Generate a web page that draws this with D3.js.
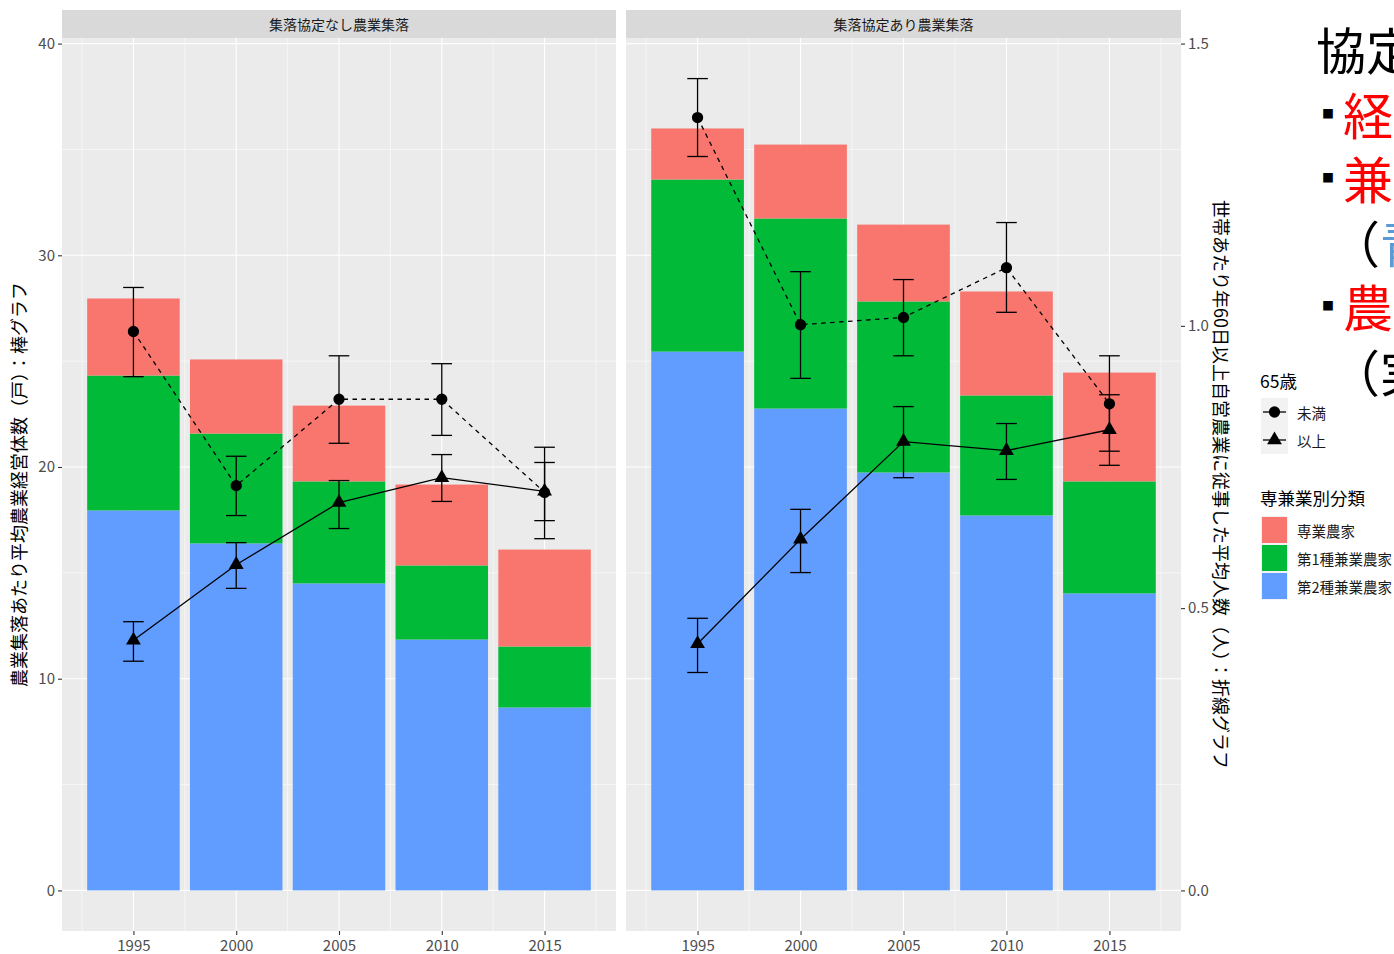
<!DOCTYPE html>
<html><head><meta charset="utf-8">
<script src="https://cdn.jsdelivr.net/npm/d3@7"></script>
<style>
body{margin:0;background:#fff}
svg{display:block}
text{font-family:"Noto Sans CJK JP","Noto Sans",sans-serif}
</style>
</head><body>
<svg id="chart" width="1394" height="954"></svg>
<script>
// ---- data ----
const years = [1995, 2000, 2005, 2010, 2015];
const panels = ["集落協定なし農業集落", "集落協定あり農業集落"];
const farmTypes = ["専業農家", "第1種兼業農家", "第2種兼業農家"];
const typeColors = ["#F8766D", "#00BA38", "#619CFF"];

// households per settlement (bars), one row per panel
const fullTime  = [[3.64, 3.50, 3.58, 3.82, 4.58], [2.41, 3.49, 3.63, 4.91, 5.14]];
const partTime1 = [[6.37, 5.19, 4.82, 3.50, 2.88], [8.13, 8.98, 8.08, 5.67, 5.29]];
const partTime2 = [[17.95, 16.39, 14.50, 11.85, 8.64], [25.45, 22.76, 19.74, 17.71, 14.03]];

// persons per household working 60+ days (lines, secondary axis)
const ageGroups = ["未満", "以上"];
const under65Mean = [[0.990, 0.717, 0.870, 0.870, 0.705], [1.369, 1.002, 1.015, 1.103, 0.862]];
const under65Low  = [[0.910, 0.664, 0.792, 0.806, 0.623], [1.300, 0.907, 0.947, 1.024, 0.778]];
const under65High = [[1.068, 0.769, 0.947, 0.933, 0.785], [1.438, 1.096, 1.082, 1.183, 0.947]];
const over65Mean  = [[0.443, 0.577, 0.687, 0.731, 0.707], [0.437, 0.622, 0.795, 0.779, 0.816]];
const over65Low   = [[0.406, 0.535, 0.641, 0.689, 0.655], [0.386, 0.563, 0.731, 0.728, 0.753]];
const over65High  = [[0.476, 0.616, 0.726, 0.772, 0.758], [0.482, 0.675, 0.857, 0.827, 0.878]];

const yTicks = [0, 10, 20, 30, 40];
const yMinor = [5, 15, 25, 35];
const secTicks = [0, 0.5, 1.0, 1.5];
const secFactor = 40 / 1.5;

// ---- layout ----
const svg = d3.select("#chart");
const panelRanges = [[62, 616], [626, 1181]];
const stripTop = 10, panelTop = 38, panelBottom = 931;
const markStroke = 1.3;

const barWidth = 4.5;
const xLo = years[0] - barWidth / 2, xHi = years[years.length - 1] + barWidth / 2;
const xPad = (xHi - xLo) * 0.05;

const totals = panels.map((p, i) => years.map((yr, j) => fullTime[i][j] + partTime1[i][j] + partTime2[i][j]));
const yMaxData = d3.max([
  ...totals.flat(),
  ...under65High.flat().map(v => v * secFactor),
  ...over65High.flat().map(v => v * secFactor)
]);
const yPad = yMaxData * 0.05;
const y = d3.scaleLinear().domain([-yPad, yMaxData + yPad]).range([panelBottom, panelTop]);
const ySec = d3.scaleLinear().domain(y.domain().map(v => v / secFactor)).range([panelBottom, panelTop]);

const tickColor = "#333333", labelColor = "#4D4D4D";

panels.forEach((name, pi) => {
  const [x0, x1] = panelRanges[pi];
  const x = d3.scaleLinear().domain([xLo - xPad, xHi + xPad]).range([x0, x1]);
  const g = svg.append("g");

  // strip
  g.append("rect").attr("x", x0).attr("y", stripTop).attr("width", x1 - x0).attr("height", panelTop - stripTop).attr("fill", "#D9D9D9");
  g.append("text").attr("x", (x0 + x1) / 2).attr("y", (stripTop + panelTop) / 2)
    .attr("text-anchor", "middle").attr("dominant-baseline", "central")
    .attr("font-size", 14).attr("fill", "#1A1A1A").text(name);

  // panel background + grid
  g.append("rect").attr("x", x0).attr("y", panelTop).attr("width", x1 - x0).attr("height", panelBottom - panelTop).attr("fill", "#EBEBEB");
  const xMinor = years.map(v => v - 2.5).concat([years[years.length - 1] + 2.5]);
  g.selectAll(null).data(yMinor).join("line")
    .attr("x1", x0).attr("x2", x1).attr("y1", d => y(d)).attr("y2", d => y(d))
    .attr("stroke", "#fff").attr("stroke-width", 0.55);
  g.selectAll(null).data(xMinor).join("line")
    .attr("x1", d => x(d)).attr("x2", d => x(d)).attr("y1", panelTop).attr("y2", panelBottom)
    .attr("stroke", "#fff").attr("stroke-width", 0.55);
  g.selectAll(null).data(yTicks).join("line")
    .attr("x1", x0).attr("x2", x1).attr("y1", d => y(d)).attr("y2", d => y(d))
    .attr("stroke", "#fff").attr("stroke-width", 1.1);
  g.selectAll(null).data(years).join("line")
    .attr("x1", d => x(d)).attr("x2", d => x(d)).attr("y1", panelTop).attr("y2", panelBottom)
    .attr("stroke", "#fff").attr("stroke-width", 1.1);

  // stacked bars: 第2種 at bottom, then 第1種, then 専業 on top
  const layers = [partTime2[pi], partTime1[pi], fullTime[pi]];
  const layerColors = [typeColors[2], typeColors[1], typeColors[0]];
  years.forEach((yr, j) => {
    let base = 0;
    layers.forEach((vals, k) => {
      const top = base + vals[j];
      g.append("rect")
        .attr("x", x(yr - barWidth / 2)).attr("width", x(yr + barWidth / 2) - x(yr - barWidth / 2))
        .attr("y", y(top)).attr("height", y(base) - y(top))
        .attr("fill", layerColors[k]);
      base = top;
    });
  });

  // lines, error bars and points
  const series = [
    { mean: under65Mean[pi], lo: under65Low[pi], hi: under65High[pi], dash: "4.5,4.5", shape: d3.symbolCircle, size: 100 },
    { mean: over65Mean[pi], lo: over65Low[pi], hi: over65High[pi], dash: null, shape: d3.symbolTriangle, size: 95 }
  ];
  const line = d3.line().x(d => x(d.yr)).y(d => ySec(d.v));
  series.forEach(s => {
    const pts = years.map((yr, j) => ({ yr, v: s.mean[j], lo: s.lo[j], hi: s.hi[j] }));
    g.append("path").datum(pts).attr("d", line).attr("fill", "none")
      .attr("stroke", "#000").attr("stroke-width", markStroke).attr("stroke-dasharray", s.dash);
    const eb = g.append("g").attr("stroke", "#000").attr("stroke-width", markStroke);
    pts.forEach(p => {
      eb.append("line").attr("x1", x(p.yr)).attr("x2", x(p.yr)).attr("y1", ySec(p.lo)).attr("y2", ySec(p.hi));
      eb.append("line").attr("x1", x(p.yr - 0.5)).attr("x2", x(p.yr + 0.5)).attr("y1", ySec(p.lo)).attr("y2", ySec(p.lo));
      eb.append("line").attr("x1", x(p.yr - 0.5)).attr("x2", x(p.yr + 0.5)).attr("y1", ySec(p.hi)).attr("y2", ySec(p.hi));
    });
    g.selectAll(null).data(pts).join("path")
      .attr("transform", p => `translate(${x(p.yr)},${ySec(p.v)})`)
      .attr("d", d3.symbol().type(s.shape).size(s.size)).attr("fill", "#000");
  });

  // x axis
  const xa = svg.append("g").attr("transform", `translate(0,${panelBottom})`)
    .call(d3.axisBottom(x).tickValues(years).tickFormat(d3.format("d")).tickSize(4).tickPadding(5));
  xa.select(".domain").remove();
  xa.selectAll("line").attr("stroke", tickColor).attr("stroke-width", 1.1);
  xa.selectAll("text").attr("font-size", 15).attr("fill", labelColor).attr("font-family", null);
});

// left axis
const ya = svg.append("g").attr("transform", `translate(${panelRanges[0][0]},0)`)
  .call(d3.axisLeft(y).tickValues(yTicks).tickSize(4).tickPadding(3));
ya.select(".domain").remove();
ya.selectAll("line").attr("stroke", tickColor).attr("stroke-width", 1.1);
ya.selectAll("text").attr("font-size", 15).attr("fill", labelColor).attr("font-family", null);

// right (secondary) axis
const ra = svg.append("g").attr("transform", `translate(${panelRanges[1][1]},0)`)
  .call(d3.axisRight(ySec).tickValues(secTicks).tickFormat(d3.format(".1f")).tickSize(4).tickPadding(3));
ra.select(".domain").remove();
ra.selectAll("line").attr("stroke", tickColor).attr("stroke-width", 1.1);
ra.selectAll("text").attr("font-size", 15).attr("fill", labelColor).attr("font-family", null);

// axis titles
const midY = (panelTop + panelBottom) / 2;
svg.append("text").attr("transform", `translate(18,${midY}) rotate(-90)`)
  .attr("text-anchor", "middle").attr("dominant-baseline", "central")
  .attr("font-size", 18).attr("fill", "#000").text("農業集落あたり平均農業経営体数（戸）：棒グラフ");
svg.append("text").attr("transform", `translate(1222,${midY}) rotate(90)`)
  .attr("text-anchor", "middle").attr("dominant-baseline", "central")
  .attr("font-size", 18).attr("fill", "#000").text("世帯あたり年60日以上自営農業に従事した平均人数（人）：折線グラフ");

// legend: age groups
const lg = svg.append("g");
lg.append("text").attr("x", 1260).attr("y", 380).attr("dominant-baseline", "central")
  .attr("font-size", 17.5).attr("fill", "#000").text("65歳");
const ageShapes = [d3.symbolCircle, d3.symbolTriangle];
ageGroups.forEach((lab, i) => {
  const ky = 398 + i * 28;
  lg.append("rect").attr("x", 1261).attr("y", ky).attr("width", 27).attr("height", 28).attr("fill", "#F2F2F2");
  lg.append("line").attr("x1", 1263).attr("x2", 1286).attr("y1", ky + 14).attr("y2", ky + 14)
    .attr("stroke", "#000").attr("stroke-width", markStroke);
  lg.append("path").attr("transform", `translate(1274.5,${ky + 14})`)
    .attr("d", d3.symbol().type(ageShapes[i]).size(i === 0 ? 100 : 95)).attr("fill", "#000");
  lg.append("text").attr("x", 1297).attr("y", ky + 14).attr("dominant-baseline", "central")
    .attr("font-size", 14.5).attr("fill", "#1A1A1A").text(lab);
});

// legend: farm types
lg.append("text").attr("x", 1260).attr("y", 497).attr("dominant-baseline", "central")
  .attr("font-size", 17.5).attr("fill", "#000").text("専兼業別分類");
farmTypes.forEach((lab, i) => {
  const ky = 516 + i * 28;
  lg.append("rect").attr("x", 1261).attr("y", ky).attr("width", 27).attr("height", 28).attr("fill", "#F2F2F2");
  lg.append("rect").attr("x", 1262).attr("y", ky + 1).attr("width", 25).attr("height", 26).attr("fill", typeColors[i]);
  lg.append("text").attr("x", 1297).attr("y", ky + 14).attr("dominant-baseline", "central")
    .attr("font-size", 14.5).attr("fill", "#1A1A1A").text(lab);
});

// side notes (run past the right edge)
const notes = svg.append("g").attr("font-size", 50);
notes.append("text").attr("x", 1316).attr("y", 48).attr("dominant-baseline", "central").attr("fill", "#000").text("協定");
[[113, "経", "#FF0000"], [177, "兼", "#FF0000"], [305, "農", "#FF0000"]].forEach(([cy, t, c]) => {
  notes.append("text").attr("x", 1322).attr("y", cy).attr("dominant-baseline", "central")
    .attr("font-size", 12).attr("fill", "#000").text("■");
  notes.append("text").attr("x", 1343).attr("y", cy).attr("dominant-baseline", "central").attr("fill", c).text(t);
});
const p1 = notes.append("text").attr("x", 1330).attr("y", 241).attr("dominant-baseline", "central");
p1.append("tspan").attr("fill", "#000").text("（");
p1.append("tspan").attr("fill", "#5B9BD5").text("青");
const p2 = notes.append("text").attr("x", 1330).attr("y", 370).attr("dominant-baseline", "central");
p2.append("tspan").attr("fill", "#000").text("（実");
</script>
</body></html>
